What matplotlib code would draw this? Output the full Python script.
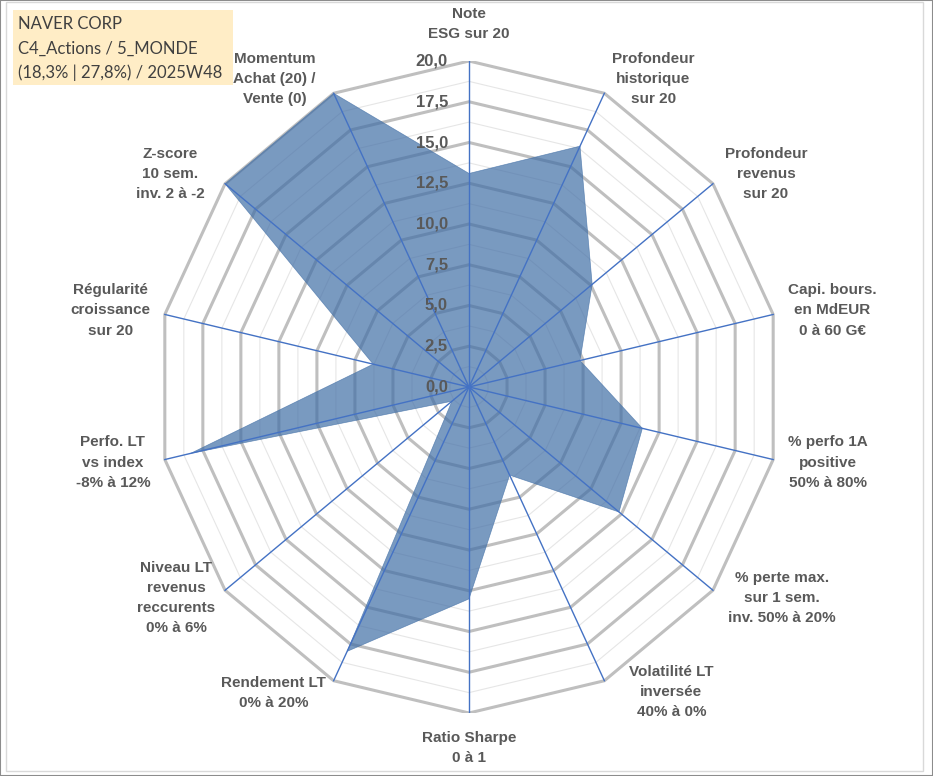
import numpy as np
import matplotlib
matplotlib.use('Agg')
import matplotlib.pyplot as plt
from matplotlib.patches import Rectangle, Polygon

# -------------------- données ----------------------
categories = [
    "Note\nESG sur 20",
    "Profondeur\nhistorique\nsur 20",
    "Profondeur\nrevenus\nsur 20",
    "Capi. bours.\nen MdEUR\n0 à 60 G€",
    "% perfo 1A\npositive\n50% à 80%",
    "% perte max.\nsur 1 sem.\ninv. 50% à 20%",
    "Volatilité LT\ninversée\n40% à 0%",
    "Ratio Sharpe\n0 à 1",
    "Rendement LT\n0% à 20%",
    "Niveau LT\nrevenus\nreccurents\n0% à 6%",
    "Perfo. LT\nvs index\n-8% à 12%",
    "Régularité\ncroissance\nsur 20",
    "Z-score\n10 sem.\ninv. 2 à -2",
    "Momentum\nAchat (20) /\nVente (0)",
]
values = [13.1, 16.4, 10.1, 7.3, 11.4, 12.3, 6.0, 13.0, 18.0, 1.4, 18.3, 6.3, 20.0, 20.0]
tick_values = [0.0, 2.5, 5.0, 7.5, 10.0, 12.5, 15.0, 17.5, 20.0]
tick_labels = ["0,0", "2,5", "5,0", "7,5", "10,0", "12,5", "15,0", "17,5", "20,0"]
minor_values = [1.25, 3.75, 6.25, 8.75, 11.25, 13.75, 16.25, 18.75]
title_lines = ["NAVER CORP", "C4_Actions / 5_MONDE", "(18,3% | 27,8%) / 2025W48"]

# décalage des étiquettes (pixels) par rapport au bout de chaque axe
label_offsets = [(0, 37), (49, 14), (53, 10), (59, 4), (55, -3), (69, -8), (67, -11),
                 (0, -35), (-60, -12), (-49, -8), (-52, -3), (-54, 4), (-55, 10), (-59, 14)]

W, H = 933, 776
cx, cy = 469, 387          # centre en pixels (depuis le haut)
rx, ry = 312, 326          # rayon horizontal / vertical en pixels
vmax = 20.0

fig = plt.figure(figsize=(W / 100, H / 100), dpi=100)
fig.patch.set_facecolor('white')
ax = fig.add_axes([(cx - rx) / W, (H - cy - ry) / H, 2 * rx / W, 2 * ry / H])
ax.set_xlim(-vmax, vmax)
ax.set_ylim(-vmax, vmax)
ax.axis('off')

n = len(categories)
theta = np.arange(n) * 2 * np.pi / n
sx, cyv = np.sin(theta), np.cos(theta)

# grille mineure puis majeure (polygones)
for v in minor_values:
    ax.add_patch(Polygon(np.c_[v * sx, v * cyv], closed=True, fill=False,
                         edgecolor='#E6E6E6', lw=0.8, zorder=1))
for v in tick_values[1:]:
    ax.add_patch(Polygon(np.c_[v * sx, v * cyv], closed=True, fill=False,
                         edgecolor='#BFBFBF', lw=2.2, zorder=2))

# série
vals = np.array(values)
ax.add_patch(Polygon(np.c_[vals * sx, vals * cyv], closed=True,
                     facecolor='#416FA6', alpha=0.7, edgecolor='#416FA6', lw=0.5, zorder=3))

# rayons
for s, c in zip(sx, cyv):
    ax.plot([0, vmax * s], [0, vmax * c], color='#4472C4', lw=1.0, zorder=4)

# graduations
for v, lab in zip(tick_values, tick_labels):
    ax.annotate(lab, xy=(0, v), xytext=(-21, 0), textcoords='offset pixels',
                ha='right', va='center', fontsize=12, fontweight='bold',
                color='#595959', family='Liberation Sans', zorder=6)

# étiquettes des axes
for lab, s, c, (dx, dy) in zip(categories, sx, cyv, label_offsets):
    ax.annotate(lab, xy=(vmax * s, vmax * c), xytext=(dx, dy), textcoords='offset pixels',
                ha='center', va='center', multialignment='center', fontsize=11,
                fontweight='bold', color='#595959', family='Liberation Sans',
                linespacing=1.55, zorder=6)

# cadre du graphique
fig.patches.append(Rectangle((0, 0), 1, 1, transform=fig.transFigure, fill=False,
                             edgecolor='#8C8C8C', lw=1.5))
fig.patches.append(Rectangle((6 / W, 1 - 771 / H), (923 - 6) / W, (771 - 2) / H,
                             transform=fig.transFigure, fill=False, edgecolor='#D9D9D9', lw=1.0))

# encadré titre
fig.patches.append(Rectangle((13 / W, 1 - 85 / H), 220 / W, 75 / H, transform=fig.transFigure,
                             facecolor='#FFEDC6', edgecolor='none'))
for i, line in enumerate(title_lines):
    fig.text(18 / W, 1 - (24 + i * 24.5) / H, line, ha='left', va='center',
             fontsize=12, color='#404040', family='Lato')

fig.savefig('out.png', dpi=100)
